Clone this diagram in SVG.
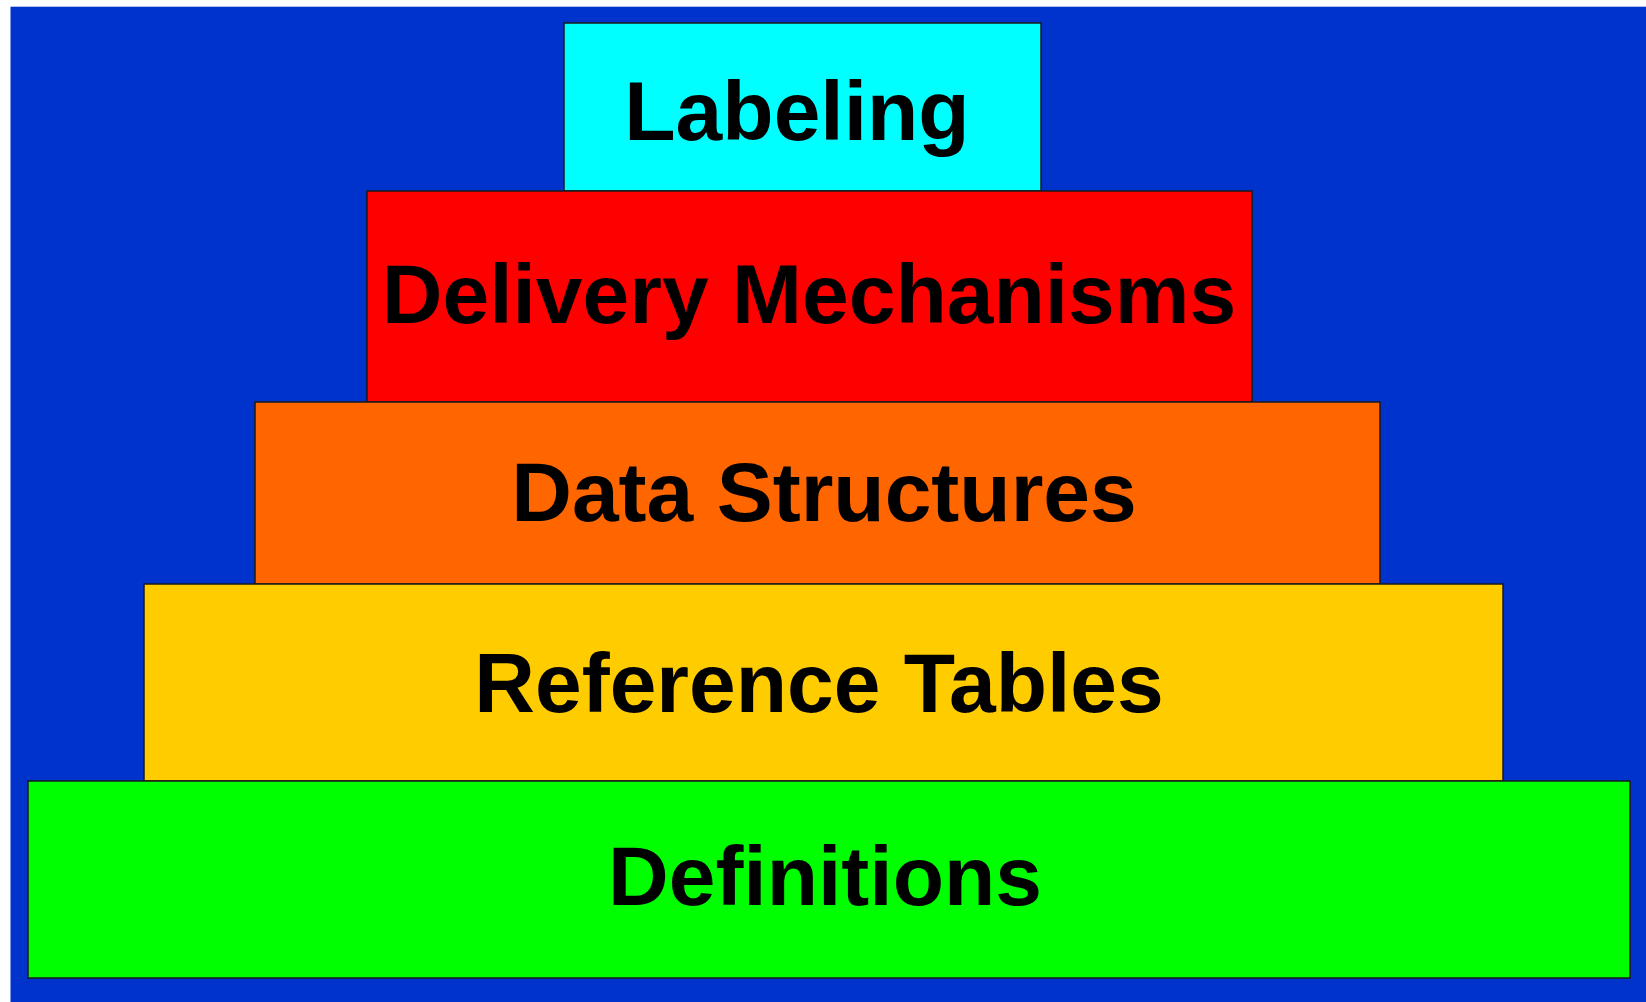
<svg xmlns="http://www.w3.org/2000/svg" width="1646" height="1002" viewBox="0 0 1646 1002">
<style>
.tier{stroke:#1a1a1a;stroke-width:1.5}
.lbl{font-family:"Liberation Sans",Arial,sans-serif;font-weight:bold;font-size:84px;fill:#000;text-anchor:middle}
</style>
<rect x="0" y="0" width="1646" height="1002" fill="#ffffff"/>
<rect id="background" x="10.5" y="6.7" width="1636" height="996" fill="#0033cc"/>
<g id="connectors"></g>
<g id="labeling">
<rect class="tier" x="564" y="23" width="477" height="168" fill="#00ffff"/>
<text class="lbl" x="797" y="140">Labeling</text>
</g>
<g id="delivery-mechanisms">
<rect class="tier" x="367" y="191" width="885" height="211" fill="#ff0000"/>
<text class="lbl" x="809" y="322.5">Delivery Mechanisms</text>
</g>
<g id="data-structures">
<rect class="tier" x="255" y="402" width="1125" height="182" fill="#ff6600"/>
<text class="lbl" x="824" y="521">Data Structures</text>
</g>
<g id="reference-tables">
<rect class="tier" x="144" y="584" width="1359" height="197" fill="#ffcc00"/>
<text class="lbl" x="819" y="711.5">Reference Tables</text>
</g>
<g id="definitions">
<rect class="tier" x="28" y="781" width="1602" height="197" fill="#00ff00"/>
<text class="lbl" x="825" y="905">Definitions</text>
</g>
</svg>
